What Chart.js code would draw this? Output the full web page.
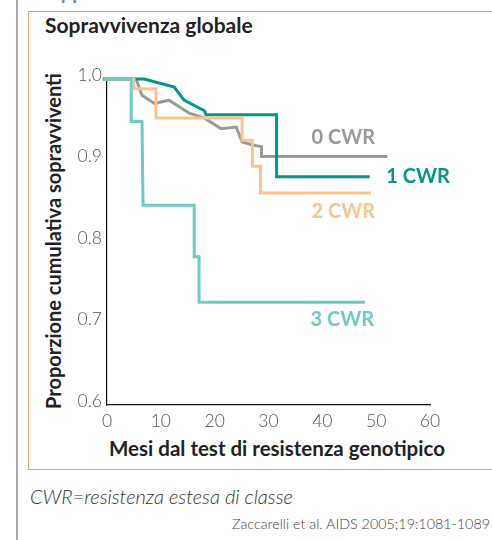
<!DOCTYPE html>
<html>
<head>
<meta charset="utf-8">
<script src="https://cdn.jsdelivr.net/npm/chart.js@4.4.0/dist/chart.umd.min.js"></script>
<style>
  body { margin: 0; width: 492px; height: 540px; overflow: hidden; background: #fff; font-family: Lato, sans-serif; position: relative; }
  #side { position: absolute; left: 16px; top: 0; width: 2px; height: 540px; background: #a8a8a8; }
  #box { position: absolute; left: 28px; top: 11px; width: 480px; height: 459px; border: 1.5px solid #e9a46a; box-sizing: border-box; }
  #toptxt { position: absolute; left: 38px; top: -21px; font-size: 20px; font-weight: bold; color: #8a8a8a; white-space: nowrap; }
  #title { position: absolute; left: 45px; top: 12px; font-size: 21px; font-weight: bold; color: #222; white-space: nowrap; }
  #ytitle { position: absolute; left: 53px; top: 241px; font-size: 20px; font-weight: bold; color: #222; white-space: nowrap; transform: translate(-50%, -50%) rotate(-90deg); }
  #xtitle { position: absolute; left: 277px; top: 436px; font-size: 20.5px; font-weight: bold; color: #222; white-space: nowrap; transform: translateX(-50%); }
  #note { position: absolute; left: 30px; top: 484px; font-size: 20px; font-style: italic; font-weight: 300; color: #333; white-space: nowrap; }
  #cite { position: absolute; right: 2px; top: 515px; font-size: 14.3px; font-weight: 300; color: #444; white-space: nowrap; }
  #wrap { position: absolute; left: 0; top: 0; width: 492px; height: 540px; }
</style>
</head>
<body>
<div id="side"></div>
<div id="toptxt">Rapporto tra il numero di classi con resistenza estesa</div>
<div id="box"></div>
<div id="title">Sopravvivenza globale</div>
<div id="ytitle">Proporzione cumulativa sopravviventi</div>
<div id="xtitle">Mesi dal test di resistenza genotipico</div>
<div id="note">CWR=resistenza estesa di classe</div>
<div id="cite">Zaccarelli et al. AIDS 2005;19:1081-1089</div>
<div id="wrap"><canvas id="grafico"></canvas></div>
<script>
// mesi / proporzione per ciascun gruppo (vertici della curva)
let mesi0 = [-0.8, 5.4, 6.5, 8.8, 11.5, 15.3, 18.1, 21.2, 24.0, 25.1, 27.0, 28.7, 28.7, 52.1];
let sopr0 = [1.0, 1.0, 0.980, 0.970, 0.974, 0.958, 0.952, 0.939, 0.941, 0.923, 0.919, 0.917, 0.905, 0.905];

let mesi1 = [-0.8, 6.9, 12.5, 14.3, 18.1, 18.4, 31.5, 31.5, 48.8];
let sopr1 = [1.0, 1.0, 0.990, 0.974, 0.961, 0.956, 0.956, 0.880, 0.880];

let mesi2 = [-0.8, 5.0, 5.0, 9.1, 9.1, 25.1, 25.1, 27.0, 27.0, 28.5, 28.5, 49.0];
let sopr2 = [1.0, 1.0, 0.988, 0.988, 0.952, 0.952, 0.925, 0.925, 0.893, 0.893, 0.860, 0.860];

let mesi3 = [-0.8, 4.5, 4.5, 6.5, 6.7, 16.2, 16.2, 17.1, 17.1, 47.9];
let sopr3 = [1.0, 1.0, 0.948, 0.948, 0.845, 0.845, 0.782, 0.782, 0.726, 0.726];

let gruppi = ["0 CWR", "1 CWR", "2 CWR", "3 CWR"];
let colori = ["#9a9a9a", "#03978b", "#fcc48a", "#6fcac6"];
let xTicks = [0, 10, 20, 30, 40, 50, 60];
let yTicks = [0.6, 0.7, 0.8, 0.9, 1.0];

function punti(xs, ys) {
  return xs.map((x, i) => ({ x: x, y: ys[i] }));
}

// posizione delle etichette dei gruppi (in coordinate dati)
let etichette = [
  { x: 43.9, y: 0.928 },
  { x: 57.8, y: 0.880 },
  { x: 43.9, y: 0.837 },
  { x: 43.7, y: 0.705 },
];

const etichettePlugin = {
  id: "etichette",
  afterDatasetsDraw(chart) {
    const ctx = chart.ctx;
    const xs = chart.scales.x;
    const ys = chart.scales.y;
    ctx.save();
    ctx.font = "bold 20px Lato";
    ctx.textAlign = "center";
    ctx.textBaseline = "middle";
    etichette.forEach((e, i) => {
      ctx.fillStyle = colori[i];
      ctx.fillText(gruppi[i], xs.getPixelForValue(e.x), ys.getPixelForValue(e.y));
    });
    ctx.restore();
  },
};

let serie = [[mesi0, sopr0], [mesi1, sopr1], [mesi2, sopr2], [mesi3, sopr3]];
let datasets = serie.map((s, i) => ({
  label: gruppi[i],
  data: punti(s[0], s[1]),
  showLine: true,
  borderColor: colori[i],
  backgroundColor: colori[i],
  borderWidth: 3,
  pointRadius: 0,
  tension: 0,
  clip: false,
}));
// ordine di disegno: grigio sopra
datasets = [datasets[3], datasets[2], datasets[1], datasets[0]];

new Chart(document.getElementById("grafico"), {
  type: "scatter",
  data: { datasets: datasets },
  plugins: [etichettePlugin],
  options: {
    responsive: true,
    maintainAspectRatio: false,
    animation: false,
    layout: { padding: { left: 0, top: 79, right: 62, bottom: 0 } },
    plugins: { legend: { display: false }, tooltip: { enabled: false } },
    scales: {
      x: {
        type: "linear",
        min: 0,
        max: 60,
        afterFit: (s) => { s.height = 135; },
        afterBuildTicks: (s) => { s.ticks = xTicks.map((v) => ({ value: v })); },
        grid: { display: false, drawTicks: false },
        border: { display: true, color: "#111", width: 1.2 },
        ticks: { padding: 6, color: "#555", font: { family: "Lato", size: 17.5, weight: 300 } },
      },
      y: {
        min: 0.6,
        max: 1.0,
        afterFit: (s) => { s.width = 107; },
        afterBuildTicks: (s) => { s.ticks = yTicks.map((v) => ({ value: v })); },
        grid: { display: false, drawTicks: false },
        border: { display: true, color: "#111", width: 1.2 },
        ticks: {
          padding: 5,
          labelOffset: -4,
          color: "#555",
          font: { family: "Lato", size: 17.5, weight: 300 },
          callback: (v) => v.toFixed(1),
        },
      },
    },
  },
});
</script>
</body>
</html>
